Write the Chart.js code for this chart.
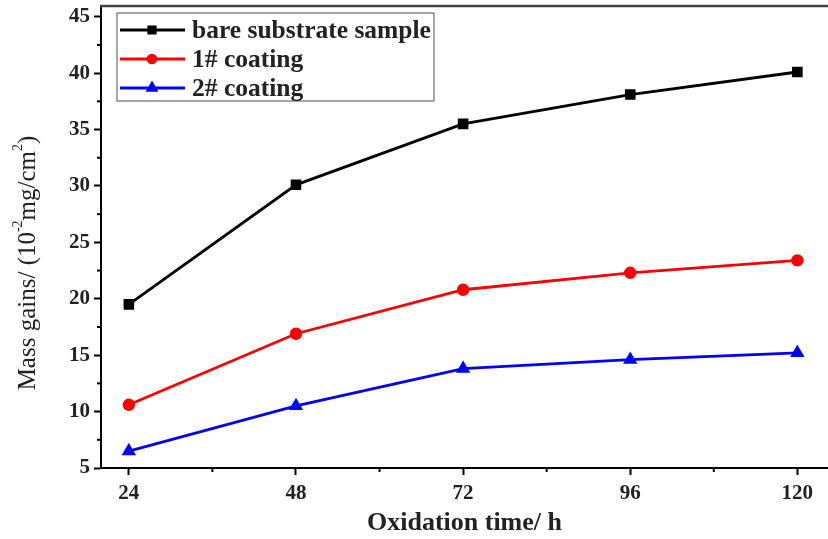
<!DOCTYPE html>
<html>
<head>
<meta charset="utf-8">
<title>Mass gains vs oxidation time</title>
<script src="https://cdn.jsdelivr.net/npm/chart.js@4.4.1/dist/chart.umd.min.js"></script>
<style>
  html, body { margin: 0; padding: 0; background: #fff; }
  #wrap { width: 828px; height: 539px; position: relative; }
</style>
</head>
<body>
<div id="wrap"><canvas id="massChart"></canvas></div>
<script>
// Data
const timeHours = [24, 48, 72, 96, 120];
const bareSubstrate = [19.5, 30.1, 35.5, 38.1, 40.1];
const coating1 = [10.6, 16.9, 20.8, 22.3, 23.4];
const coating2 = [6.5, 10.5, 13.8, 14.6, 15.2];

const seriesLabels = ['bare substrate sample', '1# coating', '2# coating'];

// Tick values
const xTickValues = [24, 48, 72, 96, 120];
const xMinorTicks = [36, 60, 84, 108];
const yTickValues = [5, 10, 15, 20, 25, 30, 35, 40, 45];
const yMinorTicks = [7.5, 12.5, 17.5, 22.5, 27.5, 32.5, 37.5, 42.5];

const serif = '"Liberation Serif", "Times New Roman", serif';

function toPoints(values) {
  return timeHours.map((t, i) => ({ x: t, y: values[i] }));
}

document.addEventListener('DOMContentLoaded', function() {
  const ctx = document.getElementById('massChart');

  // Short minor ticks + top frame line
  const framePlugin = {
    id: 'frame',
    afterDraw(chart) {
      const c = chart.ctx;
      const area = chart.chartArea;
      const xs = chart.scales.x;
      const ys = chart.scales.y;
      c.save();
      c.strokeStyle = '#000';
      c.lineWidth = 2;
      xMinorTicks.forEach(v => {
        const px = xs.getPixelForValue(v);
        c.beginPath();
        c.moveTo(px, area.bottom);
        c.lineTo(px, area.bottom + 4);
        c.stroke();
      });
      yMinorTicks.forEach(v => {
        const py = ys.getPixelForValue(v);
        c.beginPath();
        c.moveTo(area.left, py);
        c.lineTo(area.left - 4, py);
        c.stroke();
      });
      // top frame
      c.strokeStyle = '#444';
      c.lineWidth = 2.5;
      c.beginPath();
      c.moveTo(area.left - 1, area.top);
      c.lineTo(chart.width, area.top);
      c.stroke();
      c.restore();
    }
  };

  // Y axis title with real superscripts
  const yTitlePlugin = {
    id: 'yTitle',
    afterDraw(chart) {
      const c = chart.ctx;
      const area = chart.chartArea;
      const parts = [
        { t: 'Mass gains/ (10', sup: false },
        { t: '-2', sup: true },
        { t: 'mg/cm', sup: false },
        { t: '2', sup: true },
        { t: ')', sup: false }
      ];
      const big = '25px ' + serif;
      const small = '14px ' + serif;
      c.save();
      let total = 0;
      parts.forEach(p => {
        c.font = p.sup ? small : big;
        p.w = c.measureText(p.t).width;
        total += p.w;
      });
      c.translate(area.left - 73, area.top + 257);
      c.rotate(-Math.PI / 2);
      c.fillStyle = '#222';
      c.textBaseline = 'middle';
      let x = -total / 2;
      parts.forEach(p => {
        c.font = p.sup ? small : big;
        c.fillText(p.t, x, p.sup ? -10 : 0);
        x += p.w;
      });
      c.restore();
    }
  };

  // Boxed legend inside the plot, top-left
  const legendPlugin = {
    id: 'boxLegend',
    afterDatasetsDraw(chart) {
      const c = chart.ctx;
      const area = chart.chartArea;
      const datasets = chart.data.datasets;
      const left = area.left + 16;
      const top = area.top + 7;
      const rowH = 29;
      c.save();
      c.font = 'bold 25.5px ' + serif;
      const maxW = Math.max(...datasets.map(ds => c.measureText(ds.label).width));
      c.strokeStyle = '#8a8a8a';
      c.lineWidth = 1.5;
      c.strokeRect(left, top, 75 + maxW + 3, 88);
      datasets.forEach((ds, i) => {
        const cy = top + 17 + i * rowH;
        c.strokeStyle = ds.borderColor;
        c.fillStyle = ds.borderColor;
        c.lineWidth = 3;
        c.beginPath();
        c.moveTo(left + 3, cy);
        c.lineTo(left + 68, cy);
        c.stroke();
        if (Chart.helpers && Chart.helpers.drawPoint) {
          Chart.helpers.drawPoint(c, {
            pointStyle: ds.pointStyle,
            radius: ds.pointRadius * 0.8,
            rotation: 0,
            borderWidth: 1
          }, left + 35, cy);
        }
        c.fillStyle = '#222';
        c.textBaseline = 'middle';
        c.fillText(ds.label, left + 75, cy + 1);
      });
      c.restore();
    }
  };

  new Chart(ctx, {
    type: 'line',
    data: {
      datasets: [
        {
          label: seriesLabels[0],
          data: toPoints(bareSubstrate),
          borderColor: '#000000',
          backgroundColor: '#000000',
          pointStyle: 'rect',
          pointRadius: 5.5,
          borderWidth: 2.8
        },
        {
          label: seriesLabels[1],
          data: toPoints(coating1),
          borderColor: '#ff0000',
          backgroundColor: '#ff0000',
          pointStyle: 'circle',
          pointRadius: 4.8,
          borderWidth: 2.8
        },
        {
          label: seriesLabels[2],
          data: toPoints(coating2),
          borderColor: '#0000ff',
          backgroundColor: '#0000ff',
          pointStyle: 'triangle',
          pointRadius: 5.5,
          borderWidth: 2.8
        }
      ]
    },
    options: {
      responsive: true,
      maintainAspectRatio: false,
      animation: false,
      layout: { autoPadding: false, padding: { top: 6, right: 0, left: 0, bottom: 0 } },
      plugins: {
        legend: { display: false },
        tooltip: { enabled: false }
      },
      scales: {
        x: {
          type: 'linear',
          min: 20,
          max: 124.4,
          afterBuildTicks: scale => { scale.ticks = xTickValues.map(v => ({ value: v })); },
          afterFit: scale => {
            scale.height = 71;
            scale.paddingRight = 0;
            scale.paddingLeft = 0;
          },
          grid: { drawOnChartArea: false, drawTicks: true, tickLength: 7, tickColor: '#000', tickWidth: 2 },
          border: { color: '#000', width: 2 },
          ticks: {
            color: '#222',
            padding: 6,
            maxRotation: 0,
            font: { family: serif, size: 21, weight: 'bold' }
          },
          title: {
            display: true,
            text: 'Oxidation time/ h',
            color: '#222',
            font: { family: serif, size: 26, weight: 'bold' },
            padding: { top: 0, bottom: 0 }
          }
        },
        y: {
          min: 5,
          max: 45.95,
          afterBuildTicks: scale => { scale.ticks = yTickValues.map(v => ({ value: v })); },
          afterFit: scale => {
            scale.width = 101;
            scale.paddingTop = 0;
            scale.paddingBottom = 0;
          },
          grid: { drawOnChartArea: false, drawTicks: true, tickLength: 7, tickColor: '#000', tickWidth: 2 },
          border: { color: '#000', width: 2 },
          ticks: {
            color: '#222',
            padding: 4,
            font: { family: serif, size: 21, weight: 'bold' }
          }
        }
      }
    },
    plugins: [framePlugin, yTitlePlugin, legendPlugin]
  });
});
</script>
</body>
</html>
